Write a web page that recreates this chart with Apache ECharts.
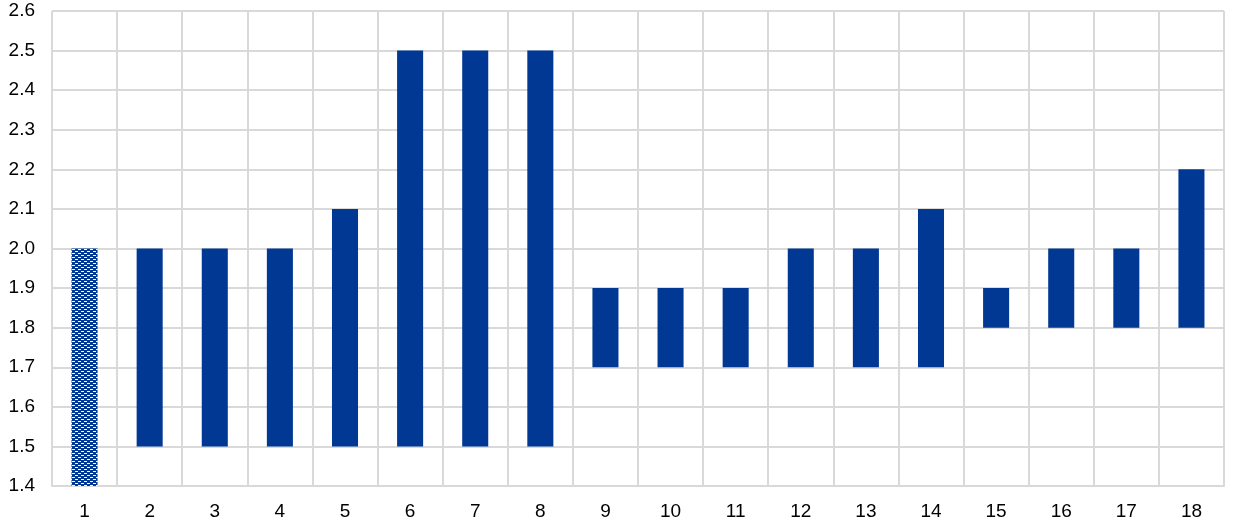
<!DOCTYPE html>
<html><head><meta charset="utf-8">
<script src="https://cdn.jsdelivr.net/npm/echarts@6/dist/echarts.min.js"></script>
<style>html,body{margin:0;padding:0;background:#fff}#c{width:1240px;height:528px}</style>
</head><body><div id="c"></div>
<script>
var categories = ['1','2','3','4','5','6','7','8','9','10','11','12','13','14','15','16','17','18'];
var lows  = [1.4,1.5,1.5,1.5,1.5,1.5,1.5,1.5,1.7,1.7,1.7,1.7,1.7,1.7,1.8,1.8,1.8,1.8];
var highs = [2.0,2.0,2.0,2.0,2.1,2.5,2.5,2.5,1.9,1.9,1.9,2.0,2.0,2.1,1.9,2.0,2.0,2.2];
var yTicks = {min:1.4, max:2.6, interval:0.1};

var blue = '#003893';
var pc = document.createElement('canvas');
pc.width = 6; pc.height = 4;
var ctx = pc.getContext('2d');
ctx.fillStyle = blue; ctx.fillRect(0,0,6,4);
ctx.fillStyle = '#ffffff';
ctx.fillRect(0,1,3,1);
ctx.fillRect(3,3,3,1);

var ranges = highs.map(function(h,i){
  var v = Math.round((h - lows[i])*100)/100;
  if (i === 0) return {value:v, itemStyle:{color:{image:pc, repeat:'repeat'}}};
  return v;
});

var chart = echarts.init(document.getElementById('c'));
chart.setOption({
  animation:false,
  grid:{left:52,right:16,top:11,bottom:42},
  xAxis:{type:'category',data:categories,
    axisLine:{show:true,lineStyle:{color:'#d9d9d9',width:2}},
    axisTick:{show:false},
    axisLabel:{color:'#000',fontSize:19,fontFamily:'Liberation Sans, Arial',margin:16},
    splitLine:{show:true,lineStyle:{color:'#d9d9d9',width:2}}},
  yAxis:{type:'value',min:yTicks.min,max:yTicks.max,interval:yTicks.interval,
    axisLine:{show:false},axisTick:{show:false},
    axisLabel:{color:'#000',fontSize:19,fontFamily:'Liberation Sans, Arial',margin:17,
      formatter:function(v){return v.toFixed(1);}},
    splitLine:{show:true,lineStyle:{color:'#d9d9d9',width:2}}},
  series:[
    {type:'bar',stack:'r',data:lows,barWidth:'40%',itemStyle:{color:'transparent'},silent:true},
    {type:'bar',stack:'r',data:ranges,barWidth:'40%',itemStyle:{color:blue}}
  ]
});
</script></body></html>
